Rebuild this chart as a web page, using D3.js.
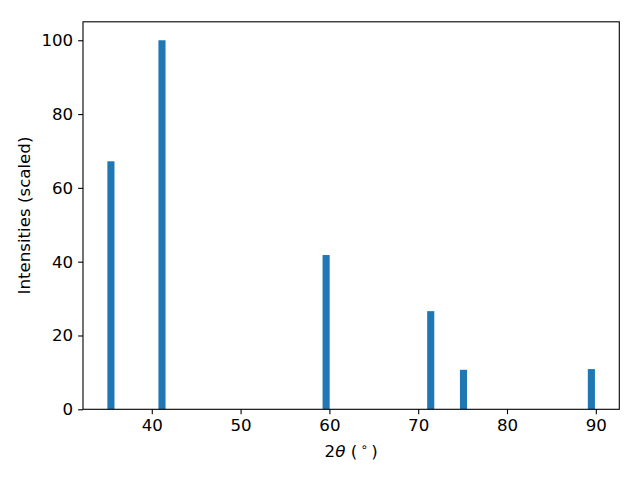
<!DOCTYPE html>
<html><head><meta charset="utf-8">
<script src="https://cdn.jsdelivr.net/npm/d3@7"></script>
<style>body{margin:0;background:#fff}svg{display:block}text{font-family:"DejaVu Sans",sans-serif;fill:#000}</style>
</head><body>
<script>
const angles = [35.4, 41.15, 59.63, 71.41, 75.1, 89.5];
const intensities = [67.2, 100, 41.8, 26.6, 10.7, 10.9];
const xTicks = [40, 50, 60, 70, 80, 90];
const yTicks = [0, 20, 40, 60, 80, 100];
const barWidth = 0.8;

const W = 640, H = 480;
const m = {left: 83, right: 619.3, top: 21.8, bottom: 409.3};
const svg = d3.select("body").append("svg").attr("width", W).attr("height", H);

const lo = d3.min(angles) - barWidth/2, hi = d3.max(angles) + barWidth/2;
const pad = (hi - lo) * 0.05;
const x = d3.scaleLinear().domain([lo - pad, hi + pad]).range([m.left, m.right]);
const y = d3.scaleLinear().domain([0, 105]).range([m.bottom, m.top]);

svg.append("g").selectAll("rect").data(angles).join("rect")
  .attr("x", (d) => x(d - barWidth/2))
  .attr("width", (d) => x(d + barWidth/2) - x(d - barWidth/2))
  .attr("y", (d, i) => y(intensities[i]))
  .attr("height", (d, i) => y(0) - y(intensities[i]))
  .attr("fill", "#1f77b4");

const fs = 16.67;
const xa = svg.append("g").attr("transform", `translate(0,${m.bottom})`)
  .call(d3.axisBottom(x).tickValues(xTicks).tickSize(4.9).tickPadding(4.9).tickFormat(d3.format("d")));
const ya = svg.append("g").attr("transform", `translate(${m.left},0)`)
  .call(d3.axisLeft(y).tickValues(yTicks).tickSize(4.9).tickPadding(4.9).tickFormat(d3.format("d")));
[xa, ya].forEach(g => {
  g.select(".domain").remove();
  g.selectAll("line").attr("stroke", "#000").attr("stroke-width", 1.1);
  g.selectAll("text").attr("font-size", fs).attr("font-family", "DejaVu Sans");
});

svg.append("rect").attr("x", m.left).attr("y", m.top)
  .attr("width", m.right - m.left).attr("height", m.bottom - m.top)
  .attr("fill", "none").attr("stroke", "#000").attr("stroke-width", 1.1);

const xl = svg.append("text").attr("x", (m.left + m.right)/2).attr("y", 457)
  .attr("text-anchor", "middle").attr("font-size", fs);
xl.append("tspan").text("2");
xl.append("tspan").attr("font-style", "italic").text("θ");
xl.append("tspan").text(" (\u2009");
xl.append("tspan").attr("font-size", fs*0.7).attr("dy", -6).text("∘");
xl.append("tspan").attr("dy", 6).text("\u2009)");

svg.append("text").attr("transform", `translate(30,${(m.top + m.bottom)/2}) rotate(-90)`)
  .attr("text-anchor", "middle").attr("font-size", fs).text("Intensities (scaled)");
</script>
</body></html>
